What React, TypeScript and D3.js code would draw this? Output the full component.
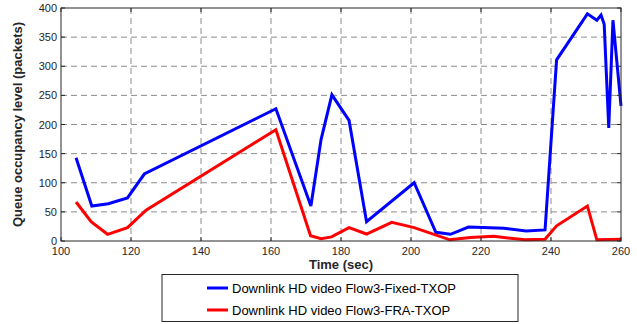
import * as d3 from 'd3';
import React from 'react';

// time (sec) and queue level (packets)
const fixedTime = [104.3, 108.8, 113.5, 119, 123.8, 161.4, 171.4, 174.3, 177.4, 182.3, 187.3, 200.9, 207.1, 211.3, 216.4, 226.6, 232.9, 238.3, 241.6, 250.4, 253.1, 254.3, 255.2, 256.5, 257.7, 260];
const fixedQueue = [143, 60, 64, 74, 115, 227, 60, 174, 251, 207, 33, 100, 15, 11.5, 24, 22, 17, 19, 311, 390, 379, 388, 372, 194, 379, 232];

const fraTime = [104.3, 108.6, 113.3, 119, 124.3, 161.4, 171.3, 174.3, 177.3, 182.3, 187.3, 194.5, 200.9, 211.1, 216.9, 223.6, 232.6, 238.3, 241.6, 250.4, 253.1, 260];
const fraQueue = [67, 33, 11.5, 23, 53, 191, 9, 4, 7, 23, 12, 32, 23, 2, 6, 8, 2, 3, 26, 60, 2, 3];

const xTicks = [100, 120, 140, 160, 180, 200, 220, 240, 260];
const yTicks = [0, 50, 100, 150, 200, 250, 300, 350, 400];

const seriesNames = ['Downlink HD video Flow3-Fixed-TXOP', 'Downlink HD video Flow3-FRA-TXOP'];
const seriesColors = ['#0000ff', '#ff0000'];

const W = 637, H = 324;
const left = 61, right = 621, top = 8, bottom = 241;
const font = '"Liberation Sans", Arial, sans-serif';

export default function App() {
  const x = d3.scaleLinear().domain([100, 260]).range([left, right]);
  const y = d3.scaleLinear().domain([0, 400]).range([bottom, top]);

  const line = d3.line<[number, number]>()
    .x(d => x(d[0]))
    .y(d => y(d[1]));

  const series = [
    fixedTime.map((t, i) => [t, fixedQueue[i]] as [number, number]),
    fraTime.map((t, i) => [t, fraQueue[i]] as [number, number]),
  ];

  return (
    <svg width={W} height={H} style={{ position: 'absolute', left: 0, top: 0, fontFamily: font }}>
      <rect x={0} y={0} width={W} height={H} fill="#fff" />
      <rect x={left} y={top} width={right - left} height={bottom - top} fill="#fff" />

      {/* grid */}
      {xTicks.slice(1, -1).map(t => (
        <line key={'gx' + t} x1={x(t)} x2={x(t)} y1={top} y2={bottom}
          stroke="#8c8c8c" strokeWidth={1} strokeDasharray="6,4" />
      ))}
      {yTicks.slice(1, -1).map(t => (
        <line key={'gy' + t} x1={left} x2={right} y1={y(t)} y2={y(t)}
          stroke="#8c8c8c" strokeWidth={1} strokeDasharray="6,4" />
      ))}

      {/* data lines */}
      {series.map((s, i) => (
        <path key={i} d={line(s) || ''} fill="none" stroke={seriesColors[i]}
          strokeWidth={3} strokeLinejoin="miter" />
      ))}

      {/* axes box */}
      <rect x={left} y={top} width={right - left} height={bottom - top}
        fill="none" stroke="#262626" strokeWidth={1} />
      {xTicks.map(t => (
        <g key={'tx' + t}>
          <line x1={x(t)} x2={x(t)} y1={bottom} y2={bottom - 4} stroke="#262626" />
          <line x1={x(t)} x2={x(t)} y1={top} y2={top + 4} stroke="#262626" />
          <text x={x(t)} y={bottom + 14} textAnchor="middle" fontSize={11} fill="#262626">{t}</text>
        </g>
      ))}
      {yTicks.map(t => (
        <g key={'ty' + t}>
          <line x1={left} x2={left + 4} y1={y(t)} y2={y(t)} stroke="#262626" />
          <line x1={right} x2={right - 4} y1={y(t)} y2={y(t)} stroke="#262626" />
          <text x={left - 4} y={y(t) + 4} textAnchor="end" fontSize={11} fill="#262626">{t}</text>
        </g>
      ))}

      <text x={(left + right) / 2} y={269} textAnchor="middle" fontSize={13} fontWeight="bold" fill="#262626">Time (sec)</text>
      <text transform={`translate(22,${(top + bottom) / 2}) rotate(-90)`} textAnchor="middle"
        fontSize={13} fontWeight="bold" fill="#262626">Queue occupancy level (packets)</text>

      {/* legend */}
      <rect x={162} y={274.5} width={356} height={47} fill="#fff" stroke="#262626" strokeWidth={1} />
      {seriesNames.map((n, i) => (
        <g key={n}>
          <line x1={207} x2={228} y1={288 + i * 22} y2={288 + i * 22} stroke={seriesColors[i]} strokeWidth={3} />
          <text x={232} y={293 + i * 22} fontSize={13} fill="#000">{n}</text>
        </g>
      ))}
    </svg>
  );
}
